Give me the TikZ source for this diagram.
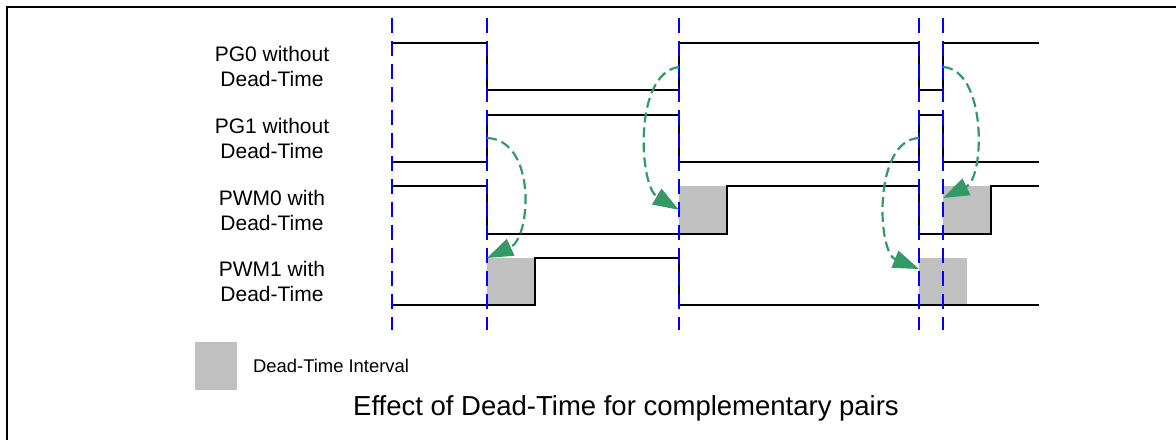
\documentclass[tikz,border=0pt]{standalone}
\usepackage{fontspec}
\setmainfont{Liberation Sans}
\usetikzlibrary{arrows.meta,positioning}
\definecolor{dtgreen}{HTML}{339966}
\definecolor{dtgrey}{HTML}{C0C0C0}
\tikzset{
  sigline/.style={line width=1pt, color=black, line join=miter},
  edgeln/.style={line width=1pt, color=blue, dash pattern=on 7.5pt off 4pt},
  dtarr/.style={-{Triangle[length=13pt,width=9pt]}, line width=1.1pt, color=dtgreen,
                dash pattern=on 5pt off 2.5pt},
  dtbox/.style={fill=dtgrey, draw=none, inner sep=0pt, anchor=north west,
                minimum width=24pt, minimum height=23.5pt},
  siglabel/.style={align=center, inner sep=0pt, font=\fontsize{10.5}{12.5}\selectfont}}

\begin{document}
\begin{tikzpicture}[x=0.5pt, y=-0.5pt]
  \useasboundingbox (0,0) rectangle (1176,440);
  % frame
  \draw[line width=1pt] (6.5,440) -- (6.5,6.5) -- (1176,6.5);

  % signal names
  \node[siglabel] (lblPGa) at (272,66.5) {PG0 without\\Dead-Time};
  \node[siglabel] (lblPGb) at (272,138.5) {PG1 without\\Dead-Time};
  \node[siglabel] (lblPWMa) at (272,210) {PWM0 with\\Dead-Time};
  \node[siglabel] (lblPWMb) at (272,281.5) {PWM1 with\\Dead-Time};

  % dead-time intervals
  \node[dtbox] (dtA) at (487,258) {};
  \node[dtbox] (dtB) at (679,186) {};
  \node[dtbox] (dtC) at (943,186) {};
  \node[dtbox] (dtD) at (919,258) {};

  % waveforms
  \draw[sigline] (392,43) -- (487,43) -- (487,90) -- (679,90) -- (679,43) -- (919,43)
    -- (919,90) -- (943,90) -- (943,43) -- (1039,43);
  \draw[sigline] (392,162) -- (487,162) -- (487,115) -- (679,115) -- (679,162) -- (919,162)
    -- (919,115) -- (943,115) -- (943,162) -- (1039,162);
  \draw[sigline] (392,186) -- (487,186) -- (487,234) -- (727,234) -- (727,186) -- (919,186)
    -- (919,234) -- (991,234) -- (991,186) -- (1039,186);
  \draw[sigline] (392,305) -- (535,305) -- (535,258) -- (679,258) -- (679,305) -- (1039,305);

  % switching instants
  \foreach \ex in {392,487,679,919,943}
    \draw[edgeln] (\ex,18) -- (\ex,330);

  % edges that start a dead-time
  \coordinate (pgbRiseA) at (487,138);
  \coordinate (pgaRiseA) at (679,67);
  \coordinate (pgbRiseB) at (919,138);
  \coordinate (pgaRiseB) at (943,67);

  \draw[dtarr] (pgbRiseA) .. controls +(50,2) and +(44,-20) .. (dtA.north west);
  \draw[dtarr] (pgaRiseA) .. controls +(-46,6) and +(-40,-24) .. (dtB.west);
  \draw[dtarr] (pgbRiseB) .. controls +(-46,2) and +(-42,-17) .. ([yshift=-5.5pt]dtD.north west);
  \draw[dtarr] (pgaRiseB) .. controls +(44,3) and +(42,-20) .. ([yshift=-6pt]dtC.north west);

  % legend and caption
  \node[dtbox, minimum width=21pt, minimum height=24pt] (legbox) at (195,342) {};
  \node[right=7.5pt of legbox, inner sep=0pt, font=\fontsize{9.2}{11}\selectfont] (legtext) {Dead-Time Interval};
  \node[anchor=base, inner sep=0pt, font=\fontsize{13.75}{16}\selectfont] (caption) at (626,415)
    {Effect of Dead-Time for complementary pairs};
\end{tikzpicture}
\end{document}
